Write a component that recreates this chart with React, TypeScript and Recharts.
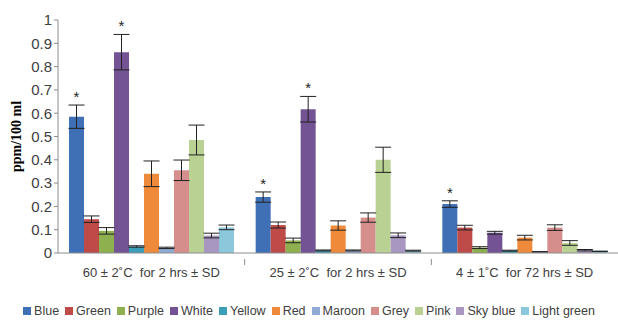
import {
  BarChart,
  Bar,
  XAxis,
  YAxis,
  Legend,
  ErrorBar,
  LabelList,
} from 'recharts';

// 온도 조건
const categories = [
  '60 ± 2˚C\u00a0\u00a0for 2 hrs ± SD',
  '25 ± 2˚C\u00a0\u00a0for 2 hrs ± SD',
  '4 ± 1˚C\u00a0\u00a0for 72 hrs ± SD',
];

const yTicks = [0, 0.1, 0.2, 0.3, 0.4, 0.5, 0.6, 0.7, 0.8, 0.9, 1];

// 시리즈별 값 / 표준편차
const blue = [0.585, 0.24, 0.21];
const blueErr = [0.05, 0.022, 0.014];
const green = [0.145, 0.12, 0.109];
const greenErr = [0.014, 0.013, 0.01];
const purple = [0.095, 0.054, 0.023];
const purpleErr = [0.014, 0.01, 0.004];
const white = [0.862, 0.617, 0.087];
const whiteErr = [0.076, 0.055, 0.006];
const yellow = [0.028, 0.011, 0.01];
const yellowErr = [0.003, 0.002, 0.002];
const red = [0.34, 0.118, 0.066];
const redErr = [0.055, 0.02, 0.01];
const maroon = [0.022, 0.011, 0.005];
const maroonErr = [0.003, 0.002, 0.001];
const grey = [0.355, 0.152, 0.109];
const greyErr = [0.044, 0.02, 0.012];
const pink = [0.485, 0.4, 0.043];
const pinkErr = [0.064, 0.054, 0.01];
const skyBlue = [0.075, 0.076, 0.012];
const skyBlueErr = [0.01, 0.01, 0.003];
const lightGreen = [0.11, 0.01, 0.007];
const lightGreenErr = [0.01, 0.002, 0.001];

// 유의성 표시 (*)
const blueStar = [true, true, true];
const whiteStar = [true, true, false];

const seriesNames = [
  'Blue',
  'Green',
  'Purple',
  'White',
  'Yellow',
  'Red',
  'Maroon',
  'Grey',
  'Pink',
  'Sky blue',
  'Light green',
];
const seriesValues = [blue, green, purple, white, yellow, red, maroon, grey, pink, skyBlue, lightGreen];
const seriesErrors = [
  blueErr,
  greenErr,
  purpleErr,
  whiteErr,
  yellowErr,
  redErr,
  maroonErr,
  greyErr,
  pinkErr,
  skyBlueErr,
  lightGreenErr,
];
const seriesStars: { [key: string]: boolean[] } = { Blue: blueStar, White: whiteStar };

const seriesColors = [
  '#3F6FB5',
  '#BE4B48',
  '#8EB04F',
  '#735394',
  '#3C9EB8',
  '#EE8A3A',
  '#8FAAD3',
  '#D58E8C',
  '#B9D293',
  '#A898C1',
  '#8CC8DB',
];

const data = categories.map((category, i) => {
  const row: { [key: string]: string | number } = { category };
  seriesNames.forEach((name, s) => {
    row[name] = seriesValues[s][i];
    row[name + '_err'] = seriesErrors[s][i];
  });
  return row;
});

const FONT = "'Liberation Sans', Arial, sans-serif";

const CategoryTick = (props: any) => {
  const { x, y, payload } = props;
  const left = payload.coordinate - (payload.offset || 0);
  return (
    <g>
      {payload.index > 0 && (
        <line x1={left} y1={y - 2} x2={left} y2={y + 4} stroke='#8c8c8c' />
      )}
      <text
        x={x}
        y={y + 16}
        textAnchor='middle'
        fontSize={13}
        fontFamily={FONT}
        fill='#404040'
      >
        {payload.value}
      </text>
    </g>
  );
};

const makeStar = (name: string) => (props: any) => {
  const { x, y, width, height, value, index } = props;
  const flags = seriesStars[name];
  if (!flags || !flags[index] || !value) return null;
  const pxPerUnit = height / value;
  const errPx = seriesErrors[seriesNames.indexOf(name)][index] * pxPerUnit;
  return (
    <text
      x={x + width / 2}
      y={y - errPx - 3}
      textAnchor='middle'
      fontSize={15}
      fontFamily={FONT}
      fill='#222'
    >
      *
    </text>
  );
};

// 범례 (원본 순서 유지)
const LegendContent = () => (
  <div
    style={{
      display: 'flex',
      justifyContent: 'center',
      alignItems: 'center',
      height: 18,
      fontSize: 12.5,
      fontFamily: FONT,
      color: '#404040',
      whiteSpace: 'nowrap',
    }}
  >
    {seriesNames.map((name, s) => (
      <span
        key={name}
        style={{ display: 'flex', alignItems: 'center', marginRight: s < seriesNames.length - 1 ? 6 : 0 }}
      >
        <span
          style={{ display: 'inline-block', width: 8, height: 8, background: seriesColors[s], marginRight: 3 }}
        />
        {name}
      </span>
    ))}
  </div>
);

const App = () => {
  return (
    <div style={{ position: 'absolute', left: 0, top: 0, width: 618, height: 320, background: '#fff' }}>
      <BarChart
        width={618}
        height={320}
        data={data}
        margin={{ top: 20, right: 0, bottom: 9, left: 0 }}
        barCategoryGap={11}
        barGap={0}
      >
        <XAxis
          dataKey='category'
          tick={<CategoryTick />}
          tickLine={false}
          axisLine={{ stroke: '#8c8c8c' }}
          height={40}
          interval={0}
        />
        <YAxis
          domain={[0, 1]}
          ticks={yTicks}
          width={58}
          tickFormatter={(v: number) => String(Math.round(v * 10) / 10)}
          tick={{ fontSize: 15, fill: '#404040', fontFamily: FONT }}
          tickLine={{ stroke: '#8c8c8c' }}
          tickSize={4}
          axisLine={{ stroke: '#8c8c8c' }}
          label={{
            value: 'ppm/100 ml',
            angle: -90,
            position: 'insideLeft',
            offset: 16,
            style: {
              textAnchor: 'middle',
              fontFamily: "'Liberation Serif', 'Times New Roman', serif",
              fontWeight: 'bold',
              fontSize: 14,
              fill: '#000',
            },
          }}
        />
        <Legend
          verticalAlign='bottom'
          content={<LegendContent />}
          wrapperStyle={{ bottom: 0, left: 0, width: 618, height: 18 }}
        />
        {seriesNames.map((name, s) => (
          <Bar
            key={name}
            dataKey={name}
            name={name}
            fill={seriesColors[s]}
            isAnimationActive={false}
          >
            <ErrorBar dataKey={name + '_err'} width={8} stroke='#222' strokeWidth={1} />
            {seriesStars[name] && <LabelList dataKey={name} content={makeStar(name)} />}
          </Bar>
        ))}
      </BarChart>
    </div>
  );
};

export default App;
